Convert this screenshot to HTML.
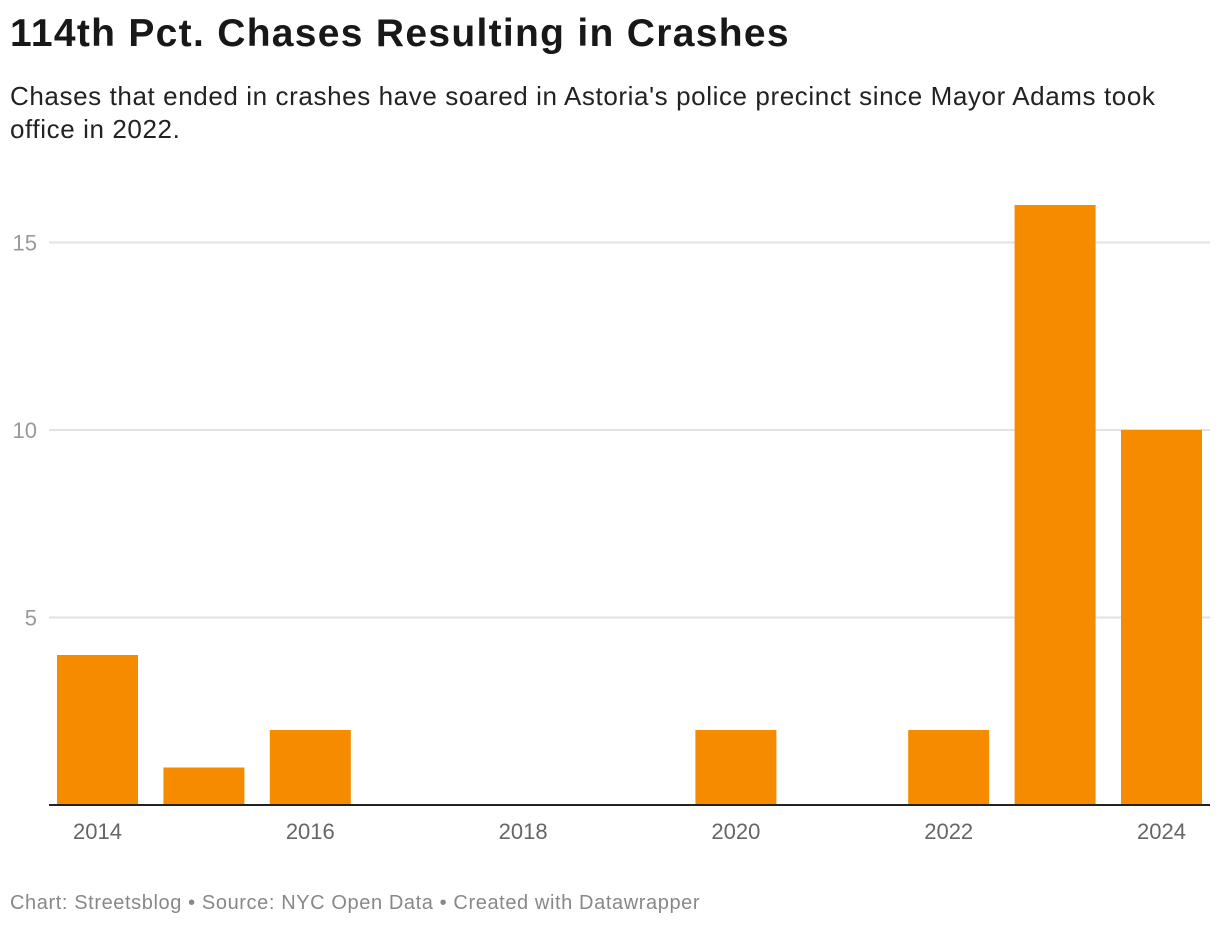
<!DOCTYPE html>
<html><head><meta charset="utf-8"><style>
body{margin:0;background:#fff;font-family:"Liberation Sans",Arial,sans-serif;}
#wrap{position:relative;width:1220px;height:928px;}
h1{position:absolute;left:10px;top:12px;margin:0;font-size:39px;font-weight:bold;color:#181818;letter-spacing:1.3px;white-space:nowrap}
.sub{position:absolute;left:10px;top:80px;width:1180px;font-size:26px;line-height:33px;color:#222;letter-spacing:0.6px}
.foot{position:absolute;left:10px;top:892px;font-size:20px;color:#888;letter-spacing:0.6px;white-space:nowrap}
</style></head><body>
<div id="wrap">
<h1>114th Pct. Chases Resulting in Crashes</h1>
<div class="sub">Chases that ended in crashes have soared in Astoria's police precinct since Mayor Adams took office in 2022.</div>
<svg id="chart" width="1220" height="928" style="position:absolute;left:0;top:0"></svg>
<div class="foot">Chart: Streetsblog • Source: NYC Open Data • Created with Datawrapper</div>
</div>
<script>
const years=[2014,2015,2016,2017,2018,2019,2020,2021,2022,2023,2024];
const values=[4,1,2,0,0,0,2,0,2,16,10];
const yTicks=[5,10,15];
const xLabels=[2014,2016,2018,2020,2022,2024];
const svg=document.getElementById('chart');
const NS='http://www.w3.org/2000/svg';
const base=805, perUnit=37.5, x0=57, step=106.4, bw=81;
const y=v=>base-v*perUnit;
const x=i=>x0+i*step;
function mk(t,a){const e=document.createElementNS(NS,t);for(const k in a)e.setAttribute(k,a[k]);svg.appendChild(e);return e;}
yTicks.forEach(t=>{
 const l=mk('line',{x1:49,x2:1210,y1:y(t),y2:y(t),stroke:'#e2e2e2','stroke-width':2});
 
 
 const tx=mk('text',{x:37,y:y(t)+8,'text-anchor':'end','font-size':22,fill:'#999','font-family':'Liberation Sans, sans-serif'});
 tx.textContent=t;
 
 
});
values.forEach((v,i)=>{
 const r=mk('rect',{x:x(i),y:y(v),width:bw,height:v*perUnit,fill:'#f78b00'});
 
 
});
const ax=mk('line',{x1:49,x2:1210,y1:base,y2:base,stroke:'#222','stroke-width':2});


xLabels.forEach(yr=>{
 const i=years.indexOf(yr);
 const tx=mk('text',{x:x(i)+bw/2,y:839,'text-anchor':'middle','font-size':22,fill:'#666','font-family':'Liberation Sans, sans-serif'});
 tx.textContent=yr;
 
 
});
</script>
</body></html>
